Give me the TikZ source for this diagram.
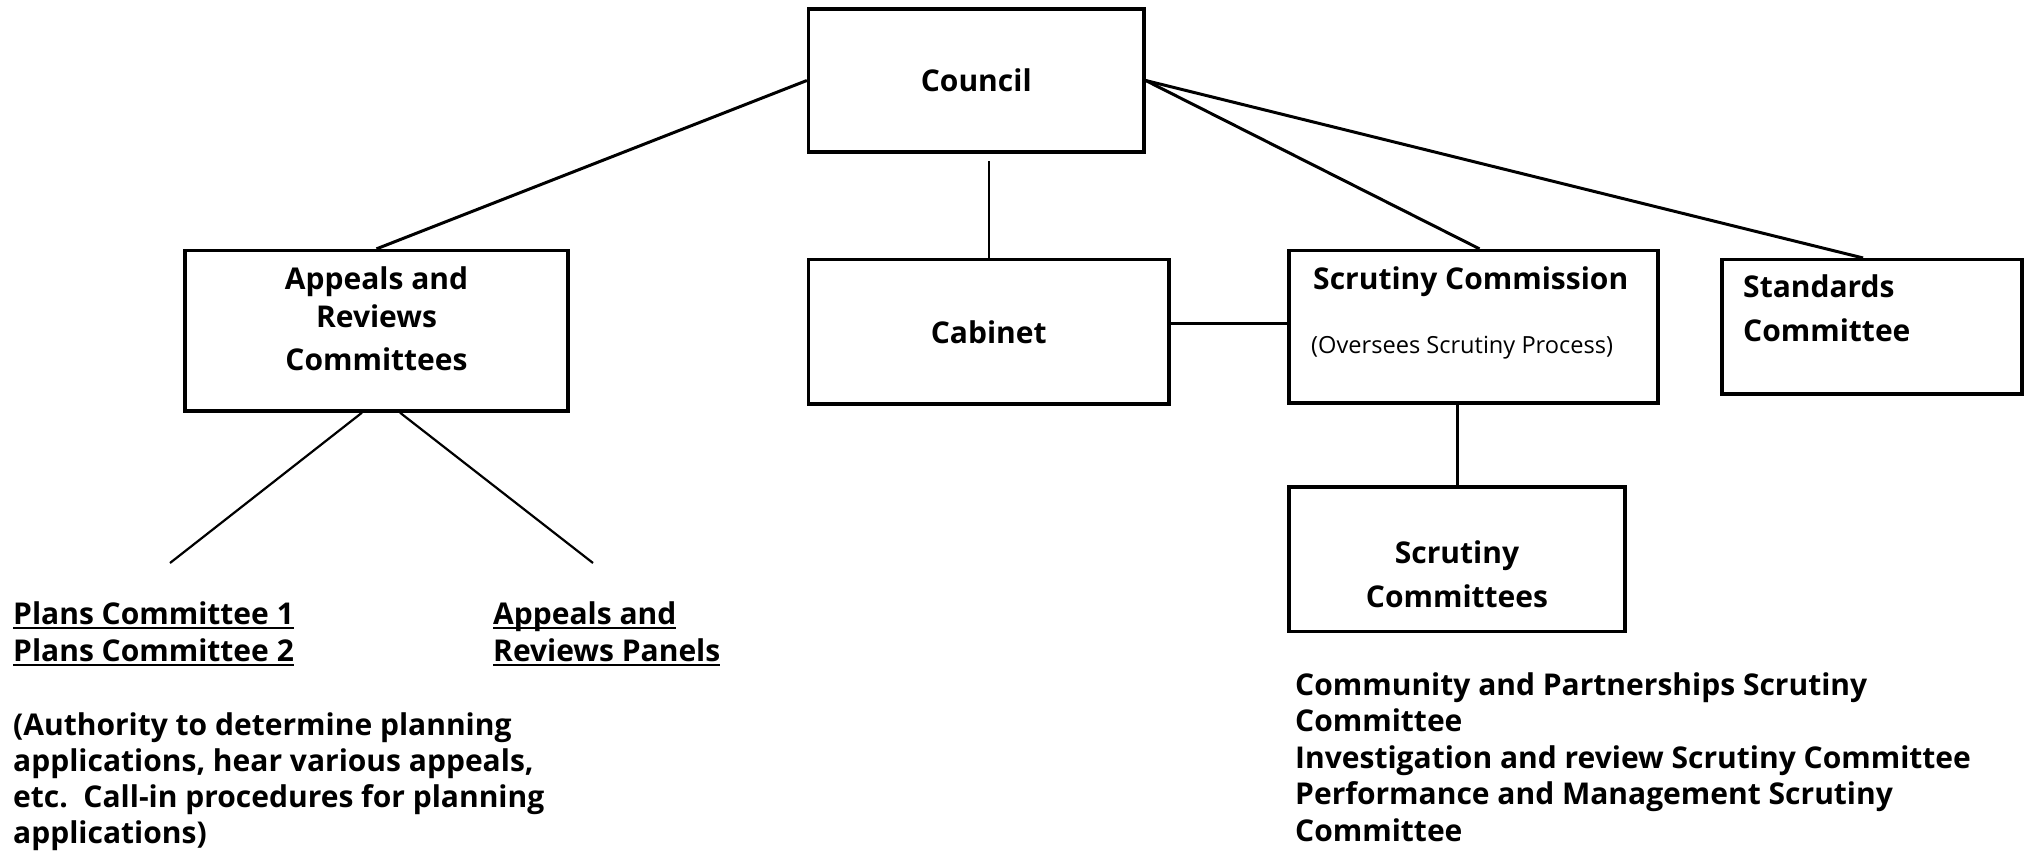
\documentclass[tikz,border=0pt]{standalone}
\usepackage{fontspec}
\setmainfont{Open Sans}
\newcommand{\myul}[1]{\setbox0\hbox{#1}\rlap{\rule[-5pt]{\wd0}{2pt}}\box0}
\begin{document}
\begin{tikzpicture}[x=1pt,y=-1pt,
  box/.style={draw=black, line width=3.3pt, inner sep=0pt},
  txt/.style={inner sep=0pt, font=\fontsize{30}{36.5}\selectfont\bfseries},
  small/.style={inner sep=0pt, font=\fontsize{23.6}{26}\selectfont},
  conn/.style={line width=3pt},
  thinconn/.style={line width=2.2pt}]
\useasboundingbox (0,0) rectangle (2025,854);

% boxes
\node[box, txt, minimum width=335.5pt, minimum height=143pt] (council) at (976.25,80.5) {Council};
\node[box, minimum width=383pt, minimum height=160.5pt] (appeals) at (376.5,330.75) {};
\node[box, txt, minimum width=360.5pt, minimum height=144.4pt] (cabinet) at (988.75,331.8) {Cabinet};
\node[box, minimum width=369pt, minimum height=152.5pt] (scomm) at (1473.5,326.75) {};
\node[box, minimum width=300pt, minimum height=134.4pt] (std) at (1872,326.8) {};
\node[box, minimum width=336pt, minimum height=144.5pt] (scc) at (1457,559.25) {};

% texts inside boxes (base anchor = last line)
\node[txt, align=center, anchor=base] (appealsT) at (376.5,370) {Appeals and\\[2pt]Reviews\\[6pt]Committees};
\node[txt, anchor=base west] (scommT) at (1313,289) {Scrutiny Commission};
\node[small, anchor=base west] (scommS) at (1311,353) {(Oversees Scrutiny Process)};
\node[txt, align=left, anchor=base west] (stdT) at (1743,341) {Standards\\[7.5pt]Committee};
\node[txt, align=center, anchor=base] (sccT) at (1457,607) {Scrutiny\\[7.5pt]Committees};

% free texts
\node[txt, align=left, anchor=base west] (plans) at (13,661) {\myul{Plans Committee 1}\\[0.5pt]\myul{Plans Committee 2}};
\node[txt, align=left, anchor=base west] (panels) at (493,661) {\myul{Appeals and}\\[0.5pt]\myul{Reviews Panels}};
\node[txt, align=left, anchor=base west] (authority) at (13,843) {(Authority to determine planning\\[-0.5pt]applications, hear various appeals,\\[-0.5pt]etc.\ \ Call-in procedures for planning\\[-0.5pt]applications)};
\node[txt, align=left, anchor=base west] (list) at (1295,841) {Community and Partnerships Scrutiny\\Committee\\Investigation and review Scrutiny Committee\\Performance and Management Scrutiny\\Committee};

% connectors
\coordinate (cabtop) at (988.75,161);
\coordinate (pc) at (170,563);
\coordinate (ap) at (593,563);
\draw[conn] (council.west) -- (appeals.north);
\draw[thinconn] (cabtop) -- (cabinet.north);
\draw[conn] (cabinet.east |- 0,323) -- (scomm.west |- 0,323);
\draw[conn] (council.east) -- ([xshift=6pt]scomm.north);
\draw[conn] (council.east) -- ([xshift=-9pt]std.north);
\draw[conn] (scc.north |- scomm.south) -- (scc.north);
\draw[thinconn] ([xshift=-14.5pt]appeals.south) -- (pc);
\draw[thinconn] ([xshift=23.5pt]appeals.south) -- (ap);
\end{tikzpicture}
\end{document}
